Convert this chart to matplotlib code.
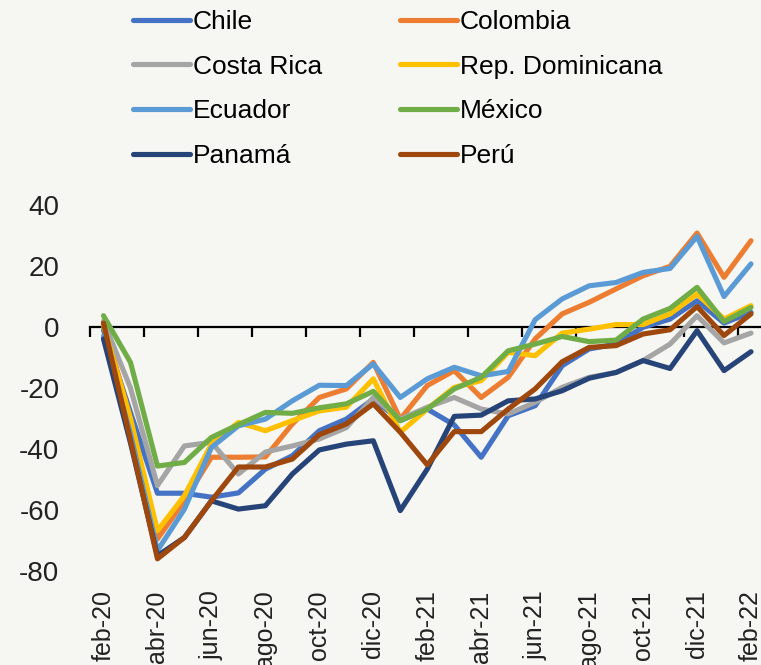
import numpy as np
import matplotlib
matplotlib.use("Agg")
import matplotlib.pyplot as plt

plt.rcParams['font.family'] = ['Liberation Sans', 'DejaVu Sans']
plt.rcParams['axes.unicode_minus'] = False

months = ['feb-20', 'mar-20', 'abr-20', 'may-20', 'jun-20', 'jul-20', 'ago-20', 'sep-20',
          'oct-20', 'nov-20', 'dic-20', 'ene-21', 'feb-21', 'mar-21', 'abr-21', 'may-21',
          'jun-21', 'jul-21', 'ago-21', 'sep-21', 'oct-21', 'nov-21', 'dic-21', 'ene-22', 'feb-22']

chile = [-1, -28, -54.5, -54.5, -55.8, -54.4, -46.6, -42.2, -34, -30.2, -23.6, -30.7, -26.9,
         -32.1, -42.7, -29.1, -25.8, -12.7, -7.2, -5.6, -0.1, 2.6, 8.6, 1.3, 4.8]
colombia = [1.5, -30, -69.5, -57, -42.7, -42.7, -42.6, -31.8, -23.1, -20.3, -11.6, -30.2, -19.2,
            -14.3, -23.1, -16.5, -3.9, 4.3, 8.1, 12.5, 16.8, 19.9, 30.8, 16.3, 28.3]
costa_rica = [2, -20, -52, -39, -37.8, -48.2, -41, -39, -36.7, -33, -23.1, -30.2, -26.3,
              -23.1, -26.9, -28.5, -24.7, -19.8, -16.5, -14.9, -11, -5.6, 3.7, -5.2, -2]
rep_dom = [0.5, -30, -66.8, -55.3, -38.4, -31.3, -34, -30.7, -27.5, -26.3, -17, -34.5, -26.9,
           -19.8, -17.6, -8.3, -9.4, -2, -0.7, 0.8, 0.8, 4.3, 10.8, 2.6, 7]
ecuador = [-3, -35, -73.3, -59.7, -39.5, -32.4, -30.2, -24.2, -19.1, -19.2, -12.1, -23.1, -17,
           -13.2, -16, -14.6, 2.4, 9.2, 13.5, 14.6, 17.9, 19.2, 29.7, 10, 20.7]
mexico = [3.7, -11.6, -45.6, -44.4, -36.2, -32, -28, -28.3, -26.5, -25.2, -21.1, -30.7, -26.9,
          -20.3, -16.5, -7.8, -5.6, -3.1, -4.8, -4.3, 2.6, 6.1, 13, 1.8, 6.4]
panama = [-3.9, -38, -75, -69, -57, -59.7, -58.6, -48.2, -40.3, -38.4, -37.3, -60.2, -46.6,
          -29.3, -28.9, -24.2, -23.6, -20.9, -16.8, -14.9, -11, -13.6, -1.2, -14.3, -8.1]
peru = [1.3, -37, -76, -69, -57, -45.9, -45.9, -43.3, -35.3, -31.8, -25.2, -34.5, -45.2,
        -34.3, -34.3, -26.9, -20.3, -11.4, -6.7, -6.1, -2.3, -0.9, 6.7, -2.8, 4.3]

series = [('Chile', chile, '#4472C4'), ('Colombia', colombia, '#ED7D31'),
          ('Costa Rica', costa_rica, '#A5A5A5'), ('Rep. Dominicana', rep_dom, '#FFC000'),
          ('Ecuador', ecuador, '#5B9BD5'), ('México', mexico, '#70AD47'),
          ('Panamá', panama, '#264478'), ('Perú', peru, '#9E480E')]

bg = '#f6f6f2'
fig = plt.figure(figsize=(7.61, 6.65), dpi=100, facecolor=bg)
ax = fig.add_axes([90 / 761, 1 - 571 / 665, (764.5 - 90) / 761, (571 - 205) / 665])
ax.set_facecolor(bg)

x = np.arange(len(months))
lines = []
for name, vals, col in series:
    ln, = ax.plot(x, vals, color=col, lw=3.7, label=name, solid_capstyle='round')
    lines.append(ln)

ax.set_xlim(-0.5, len(months) - 0.5)
ax.set_ylim(-80, 40)
ax.set_yticks(np.arange(-80, 41, 20))
ax.tick_params(axis='y', length=0, pad=22, labelsize=20, labelcolor='#222222')

for s in ['top', 'right', 'left']:
    ax.spines[s].set_visible(False)
ax.spines['bottom'].set_position(('data', 0))
ax.spines['bottom'].set_linewidth(1.6)
ax.spines['bottom'].set_zorder(1)
ax.set_xticks(np.arange(-0.5, len(months), 2))
ax.tick_params(axis='x', length=7, width=1.6, direction='out', labelbottom=False)

sec = ax.secondary_xaxis('bottom')
sec.set_xticks(x[::2])
sec.set_xticklabels(months[::2], rotation=90, va='top', ha='center')
sec.tick_params(length=0, pad=14, labelsize=18, labelcolor='#222222')
sec.spines['bottom'].set_visible(False)

# legend filled row by row, like the original
order = [0, 2, 4, 6, 1, 3, 5, 7]
fig.legend([lines[i] for i in order], [series[i][0] for i in order],
           loc='upper left', bbox_to_anchor=(133 / 761, 1 - 10 / 665), ncol=2,
           frameon=False, fontsize=19, handlelength=2.15, handletextpad=0.12,
           columnspacing=2.95, labelspacing=0.78, borderpad=0, borderaxespad=0)

fig.savefig('out.png', dpi=100, facecolor=bg)
